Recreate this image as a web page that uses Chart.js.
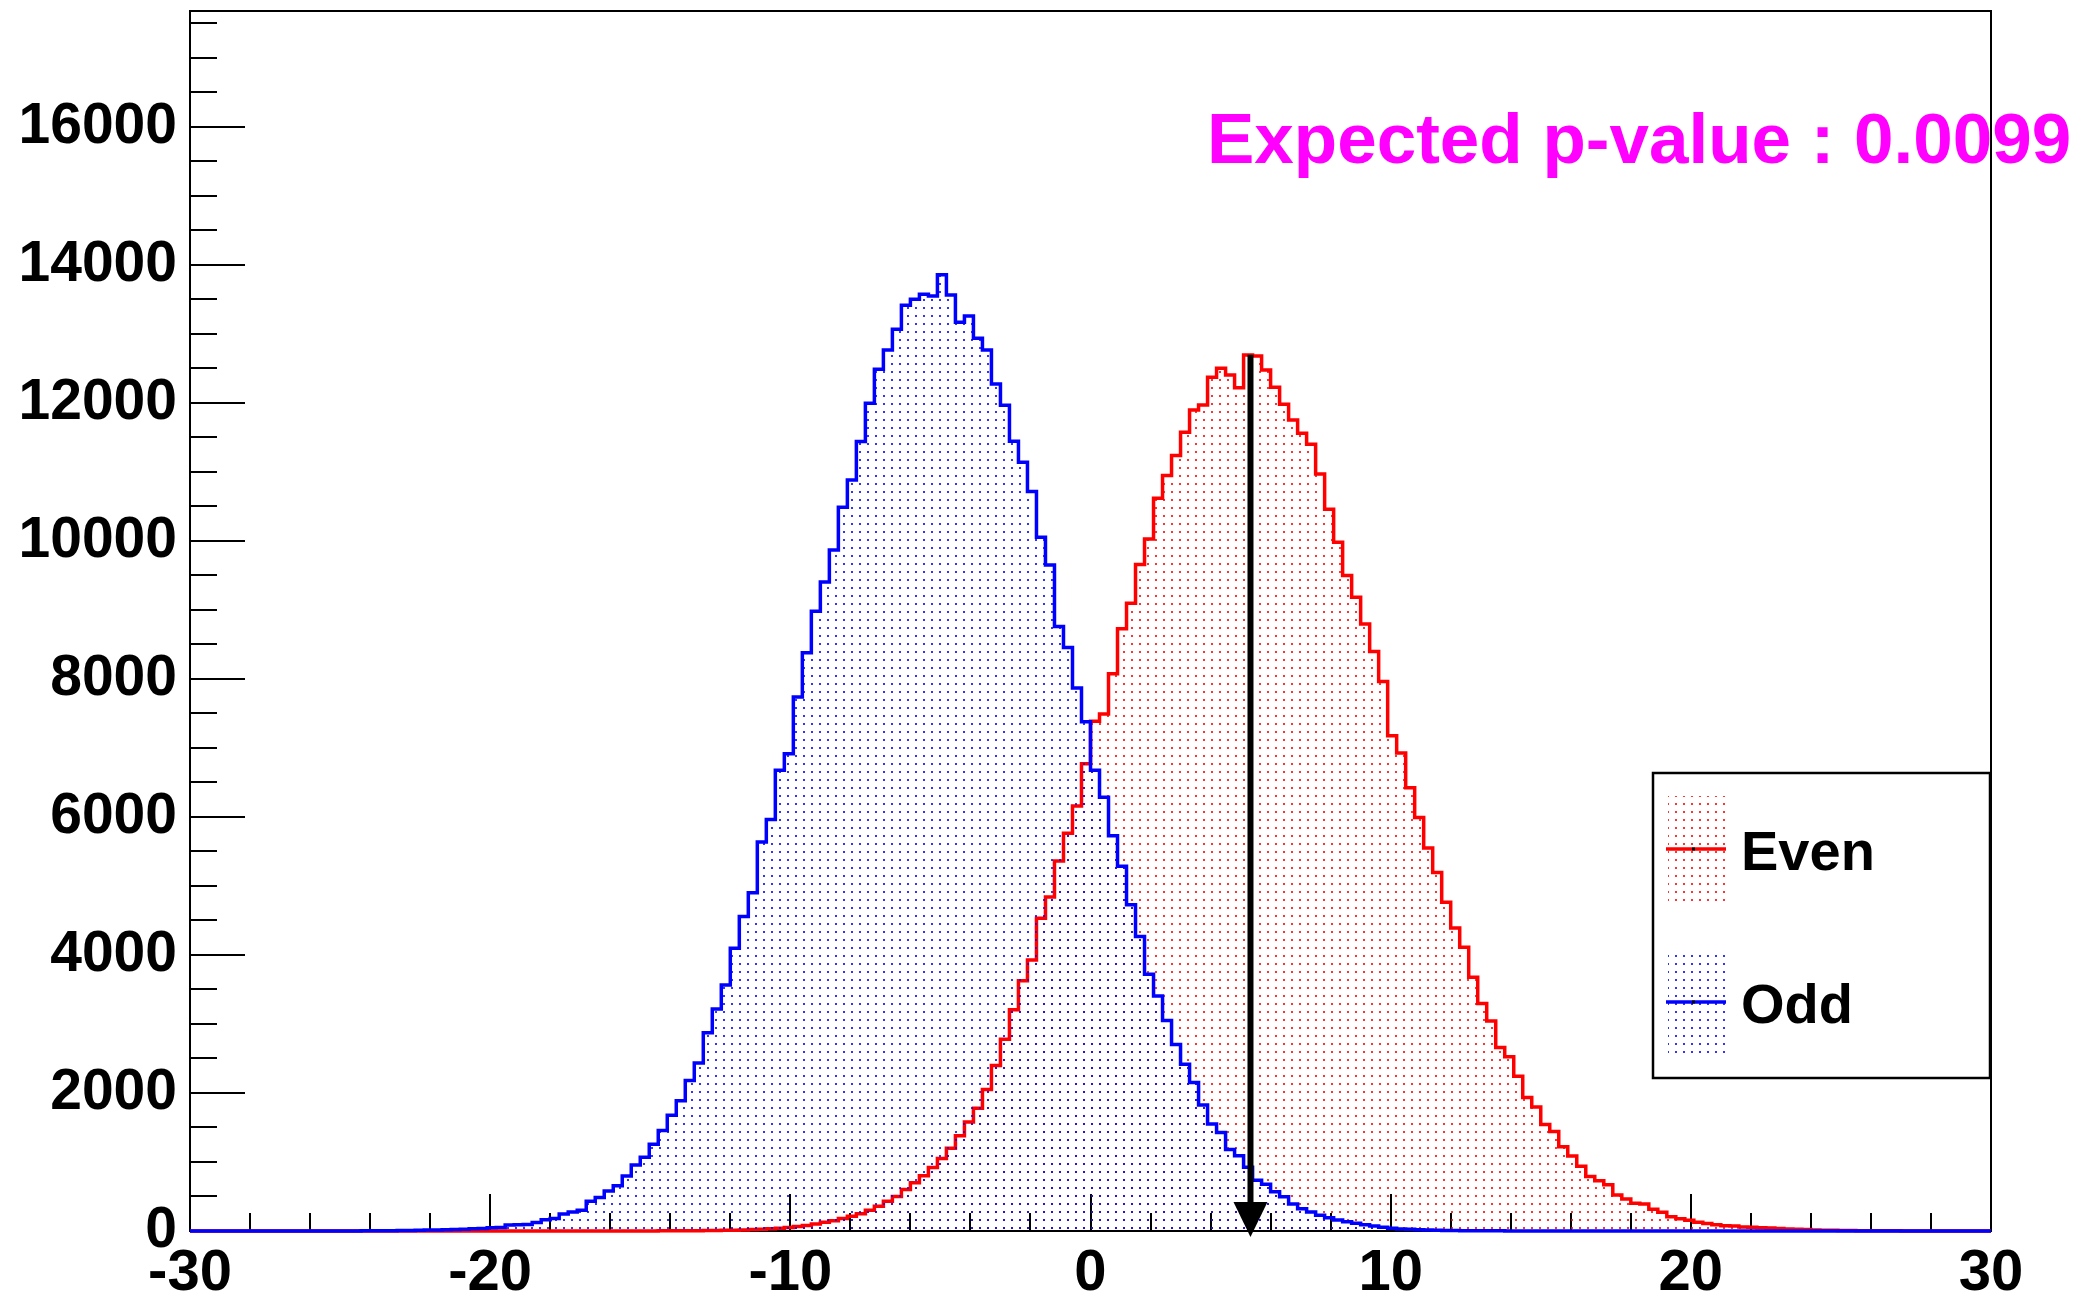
<!DOCTYPE html>
<html>
<head>
<meta charset="utf-8">
<title>Even / Odd</title>
<script src="https://cdn.jsdelivr.net/npm/chart.js@4.4.1/dist/chart.umd.min.js"></script>
<style>
  html, body { margin: 0; padding: 0; background: #fff; }
  canvas { display: block; }
</style>
</head>
<body>
<canvas id="histChart" width="2080" height="1291"></canvas>
<script>
// binning shared by both histograms
const xLow = -30;
const xHigh = 30;
const nBins = 200;

// entries per bin, 10 bins per row
const evenCounts = [
  0, 0, 0, 0, 0, 0, 0, 0, 0, 0,
  0, 0, 0, 0, 0, 0, 0, 0, 0, 0,
  0, 0, 0, 0, 0, 0, 0, 0, 0, 0,
  0, 0, 0, 0, 0, 0, 0, 0, 0, 0,
  0, 0, 0, 0, 0, 0, 0, 0, 0, 0,
  1, 1, 2, 2, 3, 4, 5, 6, 8, 10,
  12, 15, 20, 25, 32, 40, 50, 65, 80, 100,
  125, 150, 180, 215, 250, 300, 360, 430, 500, 600,
  700, 800, 920, 1050, 1200, 1380, 1580, 1780, 2050, 2400,
  2778, 3206, 3627, 3929, 4532, 4840, 5362, 5764, 6160, 6770,
  7386, 7493, 8075, 8728, 9096, 9657, 10029, 10618, 10947, 11237,
  11575, 11899, 11971, 12372, 12503, 12406, 12222, 12696, 12681, 12478,
  12227, 11981, 11754, 11561, 11402, 10972, 10460, 9981, 9498, 9184,
  8795, 8398, 7965, 7178, 6928, 6424, 5991, 5552, 5196, 4763,
  4390, 4111, 3678, 3298, 3043, 2658, 2527, 2242, 1934, 1797,
  1542, 1441, 1222, 1086, 937, 789, 730, 670, 522, 463,
  403, 392, 314, 273, 208, 178, 154, 125, 107, 89,
  77, 71, 59, 53, 47, 42, 36, 30, 25, 20,
  16, 12, 10, 8, 6, 5, 4, 3, 2, 2,
  1, 1, 0, 0, 0, 0, 0, 0, 0, 0
];

const oddCounts = [
  0, 0, 0, 0, 0, 0, 0, 0, 0, 0,
  0, 0, 0, 0, 0, 0, 0, 0, 1, 2,
  3, 4, 5, 7, 9, 11, 13, 15, 18, 20,
  25, 32, 38, 46, 50, 88, 92, 96, 122, 163,
  180, 245, 277, 300, 430, 484, 578, 654, 798, 955,
  1069, 1257, 1458, 1678, 1886, 2181, 2433, 2873, 3218, 3564,
  4098, 4557, 4903, 5638, 5965, 6676, 6915, 7740, 8380, 8980,
  9405, 9870, 10489, 10884, 11440, 11995, 12488, 12768, 13067, 13415,
  13502, 13575, 13551, 13859, 13565, 13169, 13261, 12937, 12768, 12276,
  11966, 11445, 11140, 10715, 10054, 9653, 8760, 8455, 7870, 7380,
  6676, 6286, 5727, 5287, 4727, 4268, 3721, 3407, 3049, 2703,
  2417, 2152, 1826, 1552, 1428, 1180, 1090, 924, 737, 677,
  570, 498, 391, 322, 277, 228, 193, 159, 135, 111,
  92, 72, 53, 39, 29, 24, 18, 14, 10, 8,
  6, 5, 4, 3, 2, 2, 1, 1, 1, 0,
  0, 0, 0, 0, 0, 0, 0, 0, 0, 0,
  0, 0, 0, 0, 0, 0, 0, 0, 0, 0,
  0, 0, 0, 0, 0, 0, 0, 0, 0, 0,
  0, 0, 0, 0, 0, 0, 0, 0, 0, 0,
  0, 0, 0, 0, 0, 0, 0, 0, 0, 0
];

const xTickValues = [-30, -20, -10, 0, 10, 20, 30];
const yTickValues = [0, 2000, 4000, 6000, 8000, 10000, 12000, 14000, 16000];
const yMax = 17680;

// observed value of the test statistic, marked with the arrow
const observedValue = 5.33;
const arrowTop = 12700;
const pValueLabel = 'Expected p-value : 0.0099';
const legendLabels = ['Even', 'Odd'];

const FONT = "'Liberation Sans', Arial, Helvetica, sans-serif";
const RED = '#ff0000';
const BLUE = '#0000ff';

const binWidth = (xHigh - xLow) / nBins;

// left bin edges, plus the upper edge so the last bin gets its step
const toSteps = (counts) => {
    const pts = counts.map((c, i) => ({ x: xLow + i * binWidth, y: c }));
    pts.push({ x: xHigh, y: counts[counts.length - 1] });
    return pts;
};

const canvas = document.getElementById('histChart');
const ctx = canvas.getContext('2d');

// sparse dot hatch, like the ROOT fill style
const dotPattern = (color) => {
    const tile = document.createElement('canvas');
    tile.width = 8;
    tile.height = 8;
    const g = tile.getContext('2d');
    g.fillStyle = color;
    g.fillRect(3, 3, 2, 2);
    return ctx.createPattern(tile, 'repeat');
};

const evenFill = dotPattern('rgba(255, 0, 0, 0.8)');
const oddFill = dotPattern('rgba(0, 0, 255, 0.8)');

const line = (c, x1, y1, x2, y2) => {
    c.beginPath();
    c.moveTo(x1, y1);
    c.lineTo(x2, y2);
    c.stroke();
};

// frame box and inward tick marks, drawn under the histograms
const framePlugin = {
    id: 'frame',
    beforeDraw(chart) {
        const c = chart.ctx;
        c.save();
        c.fillStyle = '#fff';
        c.fillRect(0, 0, chart.width, chart.height);
        c.restore();
    },
    beforeDatasetsDraw(chart) {
        const { ctx: c, chartArea: a, scales: { x, y } } = chart;
        c.save();
        c.strokeStyle = '#000';
        c.lineWidth = 2;
        c.strokeRect(a.left, a.top, a.right - a.left, a.bottom - a.top);

        for (let v = 0; v <= yMax; v += 500) {
            const py = Math.round(y.getPixelForValue(v));
            const len = v % 2000 === 0 ? 55 : 27;
            line(c, a.left, py, a.left + len, py);
        }
        for (let v = xLow; v <= xHigh; v += 2) {
            const px = Math.round(x.getPixelForValue(v));
            const len = v % 10 === 0 ? 37 : 18;
            line(c, px, a.bottom, px, a.bottom - len);
        }
        c.restore();
    },
    afterDraw(chart) {
        const { ctx: c, scales: { x, y } } = chart;
        c.save();

        // arrow at the observed value
        const ax = x.getPixelForValue(observedValue);
        const y0 = y.getPixelForValue(0);
        const tip = y0 + 6;
        c.strokeStyle = '#000';
        c.lineWidth = 6;
        line(c, ax, y.getPixelForValue(arrowTop), ax, tip - 30);
        c.fillStyle = '#000';
        c.beginPath();
        c.moveTo(ax - 17, tip - 35);
        c.lineTo(ax + 17, tip - 35);
        c.lineTo(ax, tip);
        c.closePath();
        c.fill();

        // legend box
        const lx = 1653, ly = 773, lw = 337, lh = 305;
        c.fillStyle = '#fff';
        c.fillRect(lx, ly, lw, lh);
        c.strokeStyle = '#000';
        c.lineWidth = 2.5;
        c.strokeRect(lx, ly, lw, lh);

        const entries = [
            { label: legendLabels[0], color: RED, fill: evenFill, cy: 849 },
            { label: legendLabels[1], color: BLUE, fill: oddFill, cy: 1002 }
        ];
        entries.forEach(e => {
            c.fillStyle = e.fill;
            c.fillRect(1668, e.cy - 53, 58, 107);
            c.strokeStyle = e.color;
            c.lineWidth = 3.5;
            line(c, 1666, e.cy, 1726, e.cy);
            c.fillStyle = '#000';
            c.fillRect(1692, e.cy - 1.5, 3, 3);
            c.font = 'bold 56px ' + FONT;
            c.textBaseline = 'alphabetic';
            c.textAlign = 'left';
            c.fillText(e.label, 1741, e.cy + 21);
        });

        // p-value annotation
        c.fillStyle = '#ff00ff';
        c.font = 'bold 71px ' + FONT;
        c.textAlign = 'left';
        c.textBaseline = 'alphabetic';
        c.fillText(pValueLabel, 1207, 163);

        c.restore();
    }
};

const tickFont = { family: FONT, size: 58, weight: 'bold' };

new Chart(ctx, {
    type: 'line',
    data: {
        datasets: [
            {
                label: legendLabels[1],
                data: toSteps(oddCounts),
                stepped: true,
                borderColor: BLUE,
                borderWidth: 3.5,
                backgroundColor: oddFill,
                fill: 'origin',
                pointRadius: 0,
                clip: false,
                order: 1
            },
            {
                label: legendLabels[0],
                data: toSteps(evenCounts),
                stepped: true,
                borderColor: RED,
                borderWidth: 3.5,
                backgroundColor: evenFill,
                fill: 'origin',
                pointRadius: 0,
                clip: false,
                order: 2
            }
        ]
    },
    options: {
        responsive: false,
        animation: false,
        devicePixelRatio: 1,
        layout: { padding: { top: 11, right: 89, left: 0, bottom: 0 } },
        plugins: {
            legend: { display: false },
            tooltip: { enabled: false },
            title: { display: false }
        },
        scales: {
            x: {
                type: 'linear',
                min: xLow,
                max: xHigh,
                grid: { display: false },
                border: { display: false },
                afterBuildTicks: (scale) => {
                    scale.ticks = xTickValues.map(v => ({ value: v }));
                },
                afterFit: (scale) => {
                    scale.height = 60;
                    scale.paddingLeft = 0;
                    scale.paddingRight = 0;
                },
                ticks: {
                    color: '#000',
                    font: tickFont,
                    padding: 0,
                    maxRotation: 0,
                    autoSkip: false
                }
            },
            y: {
                type: 'linear',
                min: 0,
                max: yMax,
                grid: { display: false },
                border: { display: false },
                afterBuildTicks: (scale) => {
                    scale.ticks = yTickValues.map(v => ({ value: v }));
                },
                afterFit: (scale) => {
                    scale.width = 190;
                    scale.paddingTop = 0;
                    scale.paddingBottom = 0;
                },
                ticks: {
                    color: '#000',
                    font: { family: FONT, size: 57, weight: 'bold' },
                    padding: 5,
                    autoSkip: false,
                    callback: (v) => String(v)
                }
            }
        }
    },
    plugins: [framePlugin]
});
</script>
</body>
</html>
